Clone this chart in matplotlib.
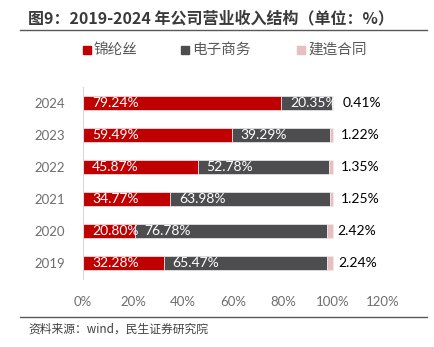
import numpy as np
import matplotlib.pyplot as plt
from matplotlib.patches import Rectangle
from matplotlib.lines import Line2D

# 2019-2024 营业收入结构（%）
years = ['2019', '2020', '2021', '2022', '2023', '2024']
nylon = [32.28, 20.80, 34.77, 45.87, 59.49, 79.24]
ecommerce = [65.47, 76.78, 63.98, 52.78, 39.29, 20.35]
construction = [2.24, 2.42, 1.25, 1.35, 1.22, 0.41]
series_names = ['锦纶丝', '电子商务', '建造合同']
x_ticks = [0, 20, 40, 60, 80, 100, 120]

red = '#C00000'
dark = '#4D4D4F'
pink = '#E8BFC1'
grey = '#595959'
tick_grey = '#6E6E6E'

num_font = ['Lato', 'Noto Sans CJK SC']
cjk_font = ['Noto Sans CJK SC', 'DejaVu Sans']

fig = plt.figure(figsize=(4.34, 3.47), dpi=100)
ax = fig.add_axes([0.191, 0.196, 0.691, 0.553])

y = np.arange(len(years))
h = 0.46
nylon = np.array(nylon)
ecommerce = np.array(ecommerce)
construction = np.array(construction)
pink_left = nylon + ecommerce

ax.barh(y, nylon, height=h, color=red, edgecolor='#EDEDED', linewidth=0.5)
ax.barh(y, ecommerce, left=nylon, height=h, color=dark, edgecolor='#EDEDED', linewidth=0.5)
ax.barh(y, construction, left=pink_left, height=h, color=pink,
        edgecolor='#EDEDED', linewidth=0.5)

for i in range(len(years)):
    ax.text(3.6, y[i], f'{nylon[i]:.2f}%', color='white', va='center', ha='left',
            fontsize=10, family=num_font)
    ax.text(nylon[i] + 3.6, y[i], f'{ecommerce[i]:.2f}%', color='white', va='center',
            ha='left', fontsize=10, family=num_font)
    ax.text(pink_left[i] + 4.4, y[i], f'{construction[i]:.2f}%', color='black',
            va='center', ha='left', fontsize=10, family=num_font)

ax.set_xlim(0, 120)
ax.set_ylim(-0.5, 5.5)
ax.set_xticks(x_ticks)
ax.set_xticklabels([f'{t}%' for t in x_ticks], family=num_font, fontsize=9.5,
                   color=tick_grey)
ax.set_yticks(y)
ax.set_yticklabels(years, family=num_font, fontsize=9.5, color=tick_grey)
ax.tick_params(length=0, pad=13)
ax.tick_params(axis='x', pad=12)
for s in ['top', 'right', 'bottom']:
    ax.spines[s].set_visible(False)
ax.spines['left'].set_color('#D9D9D9')
ax.spines['left'].set_linewidth(0.8)

# 标题与分隔线
fig.text(28 / 434, 1 - 18 / 347, '图9：2019-2024 年公司营业收入结构（单位：%）',
         fontsize=11.5, fontweight='bold', color='#3A3A3A', va='center', ha='left',
         family=cjk_font)
fig.add_artist(Line2D([20 / 434, 427 / 434], [1 - 30 / 347, 1 - 30 / 347],
                      color='#595959', linewidth=1.0))

# 图例
legend_items = [(83, red), (181, dark), (297, pink)]
for (lx, c), name in zip(legend_items, series_names):
    fig.add_artist(Rectangle((lx / 434, 1 - 54 / 347), 8 / 434, 8 / 347,
                             color=c, transform=fig.transFigure))
    fig.text((lx + 11) / 434, 1 - 50 / 347, name, fontsize=10.5, color=grey,
             va='center', ha='left', family=cjk_font)

# 资料来源
fig.add_artist(Line2D([20 / 434, 427 / 434], [1 - 317 / 347, 1 - 317 / 347],
                      color='#595959', linewidth=1.0))
fig.text(28 / 434, 1 - 329 / 347, '资料来源：wind，民生证券研究院', fontsize=8.5,
         color='#404040', va='center', ha='left', family=cjk_font)

fig.savefig('out.png', dpi=100)
